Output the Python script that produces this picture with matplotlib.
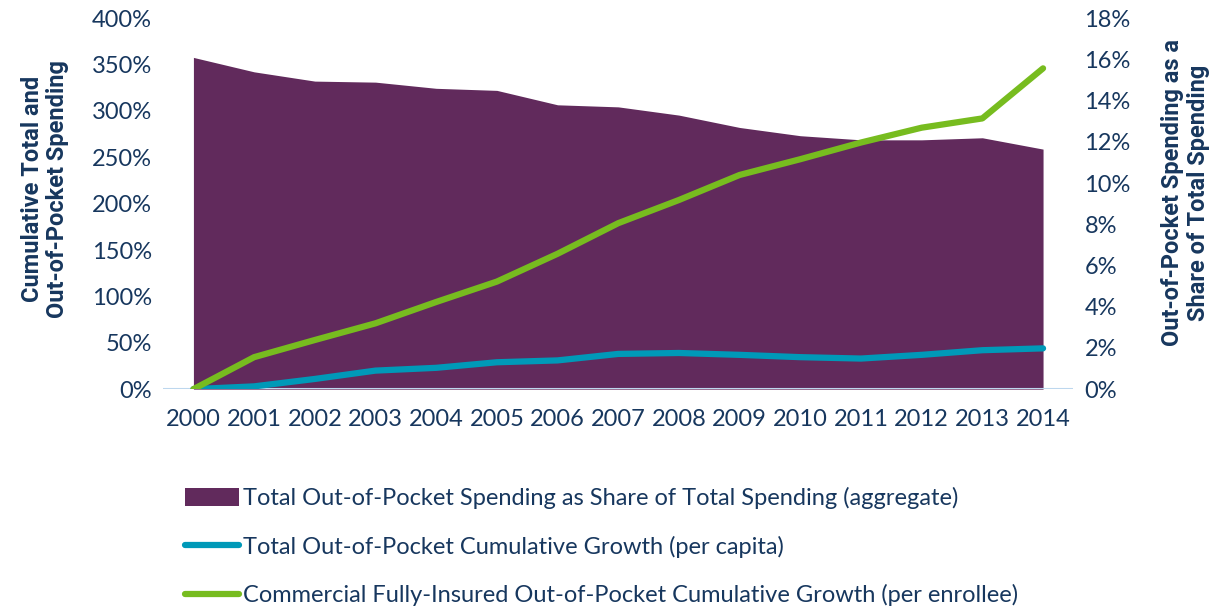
import matplotlib
matplotlib.use("Agg")
import matplotlib.pyplot as plt
import matplotlib.ticker as mtick
from matplotlib.patches import Patch
from matplotlib.lines import Line2D

years = ["2000", "2001", "2002", "2003", "2004", "2005", "2006", "2007",
         "2008", "2009", "2010", "2011", "2012", "2013", "2014"]
# out-of-pocket as share of total spending (right axis, %)
oop_share = [16.1, 15.4, 14.95, 14.9, 14.6, 14.5, 13.8, 13.7,
             13.3, 12.7, 12.3, 12.1, 12.1, 12.2, 11.65]
# cumulative growth (left axis, %)
oop_growth = [0, 3, 11, 20, 23, 29, 31, 38, 39, 37, 34.5, 33, 37, 42, 44]
comm_growth = [0, 34.5, 53, 71, 94, 116, 146, 179, 204, 231, 248, 266, 282, 292, 346]

navy = "#17375E"
purple = "#612A5C"
blue = "#0099B8"
green = "#77BC1F"

plt.rcParams['font.family'] = ['Lato', 'DejaVu Sans']

fig = plt.figure(figsize=(12.17, 6.09), dpi=100)
ax = fig.add_axes([0.134, 0.361, 0.748, 0.609])
ax2 = ax.twinx()

x = list(range(len(years)))

ax2.fill_between(x, oop_share, 0, color=purple, linewidth=0)
ax2.set_ylim(0, 18)
ax2.set_yticks(range(0, 19, 2))
ax2.yaxis.set_major_formatter(mtick.FuncFormatter(lambda v, p: "{:.0f}%".format(v)))

ax.plot(x, oop_growth, color=blue, linewidth=4.5, solid_capstyle="round")
ax.plot(x, comm_growth, color=green, linewidth=4.5, solid_capstyle="round")
ax.axhline(0, color="#BDD7EE", linewidth=1.5, zorder=0.5)
ax.set_ylim(0, 400)
ax.set_yticks(range(0, 401, 50))
ax.yaxis.set_major_formatter(mtick.FuncFormatter(lambda v, p: "{:.0f}%".format(v)))
ax.set_xlim(-0.5, len(years) - 0.5)
ax.set_xticks(x)
ax.set_xticklabels(years)

ax.set_zorder(ax2.get_zorder() + 1)
ax.patch.set_visible(False)

for a in (ax, ax2):
    for s in a.spines.values():
        s.set_visible(False)
    a.tick_params(length=0, labelsize=17, labelcolor=navy)
ax.tick_params(axis="x", pad=14)
ax.tick_params(axis="y", pad=8)
ax2.tick_params(axis="y", pad=8)

ax.set_ylabel("Cumulative Total and\nOut-of-Pocket Spending", fontsize=17,
              fontweight="bold", family="Roboto", color=navy, linespacing=1.15)
ax.yaxis.set_label_coords(-0.103, 0.54)
ax2.set_ylabel("Out-of-Pocket Spending as a\nShare of Total Spending", fontsize=17,
               fontweight="bold", family="Roboto", color=navy, linespacing=1.2)
ax2.yaxis.set_label_coords(1.096, 0.53)

handles = [Patch(facecolor=purple),
           Line2D([], [], color=blue, linewidth=4.5, solid_capstyle="round"),
           Line2D([], [], color=green, linewidth=4.5, solid_capstyle="round")]
labels = ["Total Out-of-Pocket Spending as Share of Total Spending (aggregate)",
          "Total Out-of-Pocket Cumulative Growth (per capita)",
          "Commercial Fully-Insured Out-of-Pocket Cumulative Growth (per enrollee)"]
leg = fig.legend(handles, labels, loc="upper left", bbox_to_anchor=(0.152, 0.2),
                 frameon=False, fontsize=17, labelspacing=1.12, handlelength=2.3,
                 handleheight=0.8, handletextpad=0.15, borderaxespad=0, borderpad=0)
for t in leg.get_texts():
    t.set_color(navy)

plt.savefig("out.png", dpi=100)
